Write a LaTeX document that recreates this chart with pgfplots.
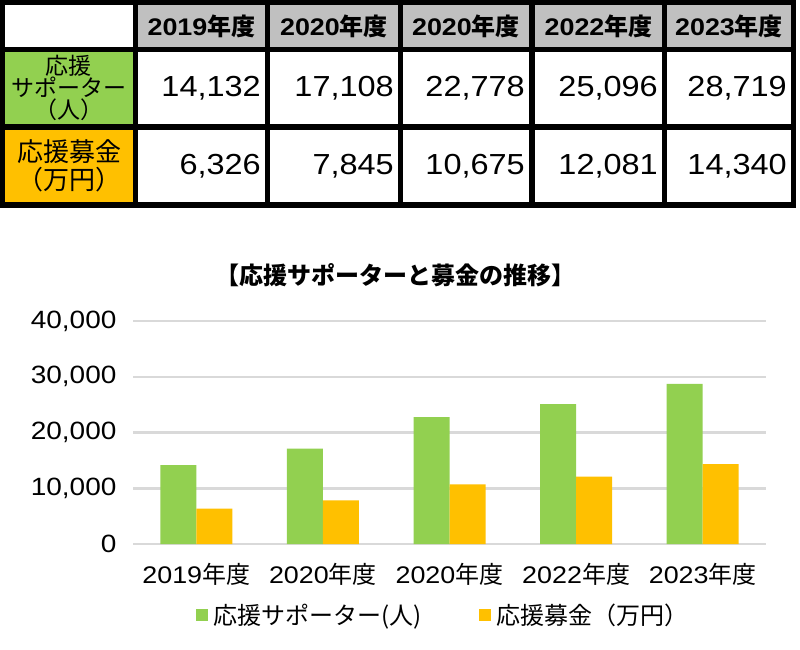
\documentclass[border=0pt]{standalone}
\usepackage{fontspec}
\setmainfont{Liberation Sans}[FakeStretch=1.12]
\newfontfamily\cjk{Noto Sans CJK JP}
\usepackage{pgfplots}
\pgfplotsset{compat=1.18}
\definecolor{cgreen}{HTML}{92D050}
\definecolor{corange}{HTML}{FFC000}
\definecolor{cgray}{HTML}{C0C0C0}
\definecolor{cgrid}{HTML}{D9D9D9}

\begin{document}
\begin{tikzpicture}
\path[use as bounding box, fill=white] (0pt,0pt) rectangle (800pt,-650pt);

% table on top
\begin{scope}[x=1pt,y=-1pt]
\fill[black] (0,0) rectangle (796,208);
\fill[white] (5,5) rectangle (133,47);
\fill[cgreen] (5,52) rectangle (133,124);
\fill[corange] (5,130) rectangle (133,202);
\node[align=center, font=\cjk\fontsize{23}{22}\selectfont] at (69,88)
  {応援\\サポーター\\（人）};
\node[align=center, font=\cjk\fontsize{26}{28}\selectfont] at (69,166)
  {応援募金\\（万円）};
\foreach \xa/\xb/\yr/\va/\vb in {
  138/265/2019/14{,}132/6{,}326,
  270/398/2020/17{,}108/7{,}845,
  403/529/2020/22{,}778/10{,}675,
  535/662/2022/25{,}096/12{,}081,
  667/791/2023/28{,}719/14{,}340}{
  \fill[cgray] (\xa,5) rectangle (\xb,47);
  \fill[white] (\xa,52) rectangle (\xb,124);
  \fill[white] (\xa,130) rectangle (\xb,202);
  \node[font=\bfseries\fontsize{24}{24}\selectfont] at ({(\xa+\xb)/2},26)
    {\yr{\cjk 年度}};
  \node[anchor=east, font=\fontsize{29}{29}\selectfont, inner sep=0pt] at (\xb-4,88) {\va};
  \node[anchor=east, font=\fontsize{29}{29}\selectfont, inner sep=0pt] at (\xb-4,166) {\vb};
}
\node[font=\cjk\bfseries\fontsize{24}{24}\selectfont] at (395,275)
  {【応援サポーターと募金の推移】};
\end{scope}

\begin{axis}[
    at={(133pt,-544pt)}, anchor=south west,
    width=633pt, height=223pt, scale only axis,
    ybar=0pt, bar width=36pt,
    xmin=-0.5, xmax=4.5,
    ymin=0, ymax=40000,
    xtick={0,1,2,3,4},
    xticklabels={{2019{\cjk 年度}},{2020{\cjk 年度}},{2020{\cjk 年度}},{2022{\cjk 年度}},{2023{\cjk 年度}}},
    ytick={0,10000,20000,30000,40000},
    scaled y ticks=false,
    /pgf/number format/1000 sep={,},
    /pgf/number format/assume math mode=true,
    axis line style={draw=none},
    major tick length=0pt,
    ymajorgrids=true,
    grid style={cgrid, line width=2.5pt},
    yticklabel style={font=\fontsize{25}{25}\selectfont, xshift=-13pt},
    xticklabel style={font=\fontsize{24}{24}\selectfont, yshift=-16pt},
    legend style={at={(0.49,-0.318)}, anchor=center, draw=none,
      font=\cjk\fontsize{24}{24}\selectfont,
      /tikz/every even column/.append style={column sep=55pt}},
    legend columns=2,
    legend image code/.code={\fill[#1] (0pt,-6pt) rectangle (12pt,6pt); \path (16pt,0pt);},
]
\addplot[fill=cgreen, draw=none] coordinates {
    (0,14132) (1,17108) (2,22778) (3,25096) (4,28719)};
\addplot[fill=corange, draw=none] coordinates {
    (0,6326) (1,7845) (2,10675) (3,12081) (4,14340)};
\addlegendentry{応援サポーター(人)}
\addlegendentry{応援募金（万円）}
\end{axis}
\end{tikzpicture}
\end{document}
